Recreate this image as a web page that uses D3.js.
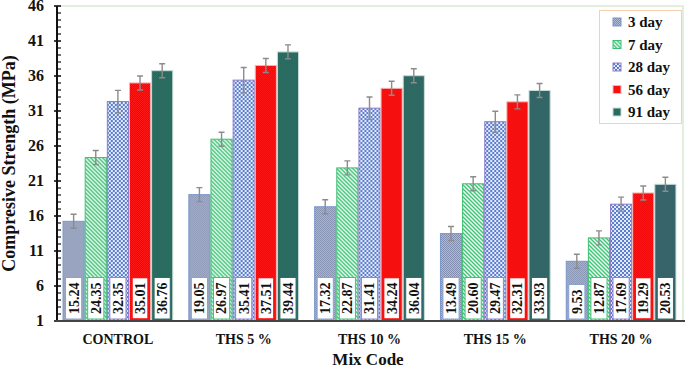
<!DOCTYPE html>
<html lang="en">
<head>
    <meta charset="UTF-8">
    <title>Compressive Strength</title>
    <script src="https://d3js.org/d3.v7.min.js"></script>
    <style>
        body { margin: 0; background: #fff; }
        text { font-family: 'Liberation Serif', serif; font-weight: bold; fill: #111; }
    </style>
</head>
<body>
    <div id="chart"></div>
    <script>
        // Chart data
        const groups = ['CONTROL', 'THS 5 %', 'THS 10 %', 'THS 15 %', 'THS 20 %'];
        const series = ['3 day', '7 day', '28 day', '56 day', '91 day'];
        const day3 = [15.24, 19.05, 17.32, 13.49, 9.53];
        const day7 = [24.35, 26.97, 22.87, 20.60, 12.87];
        const day28 = [32.35, 35.41, 31.41, 29.47, 17.69];
        const day56 = [35.01, 37.51, 34.24, 32.31, 19.29];
        const day91 = [36.76, 39.44, 36.04, 33.93, 20.53];
        const err3 = [1.0, 1.0, 1.0, 1.0, 1.0];
        const err7 = [1.0, 1.0, 1.0, 1.0, 1.0];
        const err28 = [1.6, 1.8, 1.6, 1.5, 1.0];
        const err56 = [1.0, 1.0, 1.0, 1.0, 1.0];
        const err91 = [1.0, 1.0, 1.0, 1.0, 1.0];
        const yTicks = [1, 6, 11, 16, 21, 26, 31, 36, 41, 46];

        const values = [day3, day7, day28, day56, day91];
        const errors = [err3, err7, err28, err56, err91];

        const width = 685, height = 370;
        const svg = d3.select('#chart').append('svg')
            .attr('width', width)
            .attr('height', height);

        // fill patterns for each age
        const defs = svg.append('defs');
        function checker(id, size, bg, fg) {
            const p = defs.append('pattern').attr('id', id)
                .attr('patternUnits', 'userSpaceOnUse')
                .attr('width', size * 2).attr('height', size * 2);
            p.append('rect').attr('width', size * 2).attr('height', size * 2).attr('fill', bg);
            p.append('rect').attr('width', size).attr('height', size).attr('fill', fg);
            p.append('rect').attr('x', size).attr('y', size).attr('width', size).attr('height', size).attr('fill', fg);
        }
        checker('p3', 1, '#b3bcd3', '#7f8cae');
        checker('p28', 2, '#e4eaf8', '#5a7dcf');
        checker('p56', 1, '#ff1a1a', '#ee0505');
        checker('p91', 1, '#2b7062', '#3a5b6c');
        const stripes = defs.append('pattern').attr('id', 'p7')
            .attr('patternUnits', 'userSpaceOnUse')
            .attr('width', 4).attr('height', 4);
        stripes.append('rect').attr('width', 4).attr('height', 4).attr('fill', '#f2fbf5');
        stripes.append('path')
            .attr('d', 'M0,0 L4,4 M-1,3 L1,5 M3,-1 L5,1')
            .attr('stroke', '#35c070').attr('stroke-width', 1.3);

        const fills = ['url(#p3)', 'url(#p7)', 'url(#p28)', 'url(#p56)', 'url(#p91)'];
        const borders = ['#7896cc', '#3cbf72', '#8f7dcc', '#f5b5b5', '#c8dcd8'];
        const boxBorders = ['#8aa2d2', '#44c27a', '#8d84d0', '#ff1010', '#2f6f6a'];

        const x0 = d3.scaleBand().domain(groups)
            .range([55, 684]).paddingInner(0.12).paddingOuter(0.06);
        const x1 = d3.scaleBand().domain(series).range([0, x0.bandwidth()]);
        const y = d3.scaleLinear().domain([1, 46]).range([321, 6]);

        // plot frame (top and right)
        svg.append('path')
            .attr('d', `M60,${y(46)} H683 V${y(1)}`)
            .attr('fill', 'none').attr('stroke', '#dbe9d5').attr('stroke-width', 1.5);

        // bars
        const rows = [];
        groups.forEach((g, gi) => {
            series.forEach((s, si) => {
                rows.push({ g, s, si, v: values[si][gi], e: errors[si][gi] });
            });
        });

        const bar = svg.append('g').selectAll('g')
            .data(rows).enter().append('g')
            .attr('transform', d => `translate(${x0(d.g) + x1(d.s)},0)`);

        bar.append('rect')
            .attr('x', 0.5)
            .attr('y', d => y(d.v))
            .attr('width', x1.bandwidth() - 1)
            .attr('height', d => y(1) - y(d.v))
            .attr('fill', d => fills[d.si])
            .attr('stroke', d => borders[d.si])
            .attr('stroke-width', 1);

        // error bars
        const bw = x1.bandwidth();
        bar.append('path')
            .attr('d', d => {
                const c = bw / 2, t = y(d.v + d.e), b = y(d.v - d.e);
                return `M${c},${t} V${b} M${c - 3},${t} H${c + 3} M${c - 3},${b} H${c + 3}`;
            })
            .attr('fill', 'none').attr('stroke', '#8c8c8c').attr('stroke-width', 1.4);

        // value labels in white boxes
        bar.each(function (d) {
            const gSel = d3.select(this);
            const t = gSel.append('text')
                .attr('dy', '0.35em')
                .attr('font-size', 14)
                .text(d.v.toFixed(2));
            const len = t.node().getComputedTextLength();
            gSel.insert('rect', 'text')
                .attr('x', 3)
                .attr('y', y(1) - 2 - len - 10)
                .attr('width', bw - 6)
                .attr('height', len + 10)
                .attr('fill', '#fff')
                .attr('stroke', boxBorders[d.si])
                .attr('stroke-width', d.si === 3 ? 1.6 : 1);
            t.attr('transform', `translate(${bw / 2},${y(1) - 2 - 5}) rotate(-90)`);
        });

        // y axis
        const yAxisG = svg.append('g');
        yAxisG.append('line')
            .attr('x1', 57).attr('x2', 57)
            .attr('y1', y(46)).attr('y2', y(1))
            .attr('stroke', '#111').attr('stroke-width', 2);
        const minor = d3.range(1, 47);
        yAxisG.selectAll('.minor').data(minor).enter().append('line')
            .attr('x1', d => (d - 1) % 5 === 0 ? 54 : 57)
            .attr('x2', 61)
            .attr('y1', d => y(d)).attr('y2', d => y(d))
            .attr('stroke', '#111').attr('stroke-width', d => (d - 1) % 5 === 0 ? 1.6 : 1.2);
        yAxisG.selectAll('.lbl').data(yTicks).enter().append('text')
            .attr('x', 44).attr('y', d => y(d))
            .attr('dy', '0.33em')
            .attr('text-anchor', 'end')
            .attr('font-size', 16)
            .text(d => d);

        // x axis
        svg.append('line')
            .attr('x1', 56).attr('x2', 685)
            .attr('y1', y(1)).attr('y2', y(1))
            .attr('stroke', '#444').attr('stroke-width', 2);
        svg.append('g').selectAll('text').data(groups).enter().append('text')
            .attr('x', d => x0(d) + x0.bandwidth() / 2)
            .attr('y', 344)
            .attr('text-anchor', 'middle')
            .attr('font-size', 14)
            .text(d => d);

        // axis titles
        svg.append('text')
            .attr('x', 368).attr('y', 365)
            .attr('text-anchor', 'middle')
            .attr('font-size', 17)
            .text('Mix Code');
        svg.append('text')
            .attr('transform', `translate(15,${(y(46) + y(1)) / 2}) rotate(-90)`)
            .attr('text-anchor', 'middle')
            .attr('font-size', 18)
            .text('Compresive Strength (MPa)');

        // legend
        const legend = svg.append('g');
        legend.append('rect')
            .attr('x', 599.5).attr('y', 10.5)
            .attr('width', 82).attr('height', 113)
            .attr('fill', '#fff').attr('stroke', '#f6cfb0').attr('stroke-width', 1);
        const item = legend.selectAll('g.item').data(series).enter().append('g')
            .attr('transform', (d, i) => `translate(613,${22 + i * 22.5})`);
        item.append('rect')
            .attr('x', 0).attr('y', -4)
            .attr('width', 8).attr('height', 8)
            .attr('fill', (d, i) => fills[i])
            .attr('stroke', (d, i) => borders[i]);
        item.append('text')
            .attr('x', 15).attr('dy', '0.35em')
            .attr('font-size', 15)
            .text(d => d);
    </script>
</body>
</html>
